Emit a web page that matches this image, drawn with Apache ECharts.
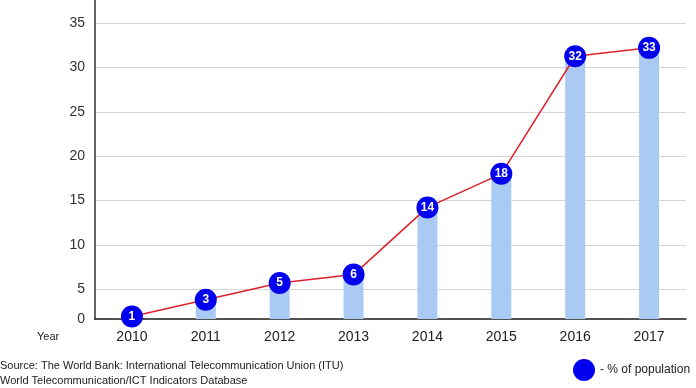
<!DOCTYPE html>
<html>
<head>
<meta charset="utf-8">
<script src="https://cdn.jsdelivr.net/npm/echarts@6/dist/echarts.min.js"></script>
<style>
html,body{margin:0;padding:0;background:#fff;}
#chart{width:696px;height:388px;}
</style>
</head>
<body>
<div id="chart"></div>
<script>
// ---- data ----
const years = ['2010', '2011', '2012', '2013', '2014', '2015', '2016', '2017'];
const populationPct = [1, 3, 5, 6, 14, 18, 32, 33];
const yTickValues = [5, 10, 15, 20, 25, 30, 35];
const seriesName = '- % of population';
const sourceLines = [
  'Source: The World Bank: International Telecommunication Union (ITU)',
  'World Telecommunication/ICT Indicators Database'
];
const xAxisTitle = 'Year';

// axis ranges (the reference draws its marks on a slightly different scale than its gridlines)
const gridAxisMin = 1.66, gridAxisMax = 37.6;
const dataAxisMin = 0.71, dataAxisMax = 38.7;

const chart = echarts.init(document.getElementById('chart'), null, {renderer: 'canvas'});
const font = '"Liberation Sans", Arial, sans-serif';

chart.setOption({
  animation: false,
  backgroundColor: '#ffffff',
  grid: {left: 95, right: 10, top: 0, bottom: 69, containLabel: false},
  xAxis: {
    type: 'category',
    data: years,
    boundaryGap: true,
    axisLine: {show: true, lineStyle: {color: '#1a1a1a', width: 1.5}},
    axisTick: {show: false},
    axisLabel: {color: '#222', fontSize: 14, fontFamily: font, margin: 11}
  },
  yAxis: [{
    type: 'value',
    min: gridAxisMin,
    max: gridAxisMax,
    axisLine: {show: true, lineStyle: {color: '#666', width: 2}},
    axisTick: {show: false, customValues: yTickValues},
    axisLabel: {
      color: '#333', fontSize: 14, fontFamily: font, margin: 10,
      customValues: [gridAxisMin].concat(yTickValues),
      formatter: v => (v < 2 ? '0' : String(Math.round(v)))
    },
    splitLine: {show: true, lineStyle: {color: '#d6d6d6', width: 1}}
  }, {
    type: 'value',
    min: dataAxisMin,
    max: dataAxisMax,
    show: false,
    splitLine: {show: false}
  }],
  legend: {
    left: 568,
    top: 354,
    icon: 'circle',
    itemWidth: 22,
    itemHeight: 22,
    itemGap: 6,
    textStyle: {color: '#222', fontSize: 12, fontFamily: font},
    data: [{name: seriesName, icon: 'circle', itemStyle: {color: '#0000ee'}}]
  },
  graphic: [
    {type: 'text', left: 37, top: 331, style: {text: xAxisTitle, fill: '#222', font: '11px ' + font}},
    {type: 'text', left: 0, top: 360, style: {text: sourceLines[0], fill: '#222', font: '11px ' + font}},
    {type: 'text', left: 0, top: 375, style: {text: sourceLines[1], fill: '#222', font: '11px ' + font}}
  ],
  series: [{
    name: 'bars',
    type: 'bar',
    yAxisIndex: 1,
    data: populationPct,
    barWidth: 20,
    itemStyle: {color: '#a9cbf3'},
    silent: true
  }, {
    name: seriesName,
    type: 'line',
    yAxisIndex: 1,
    data: populationPct,
    symbol: 'circle',
    symbolSize: 22,
    lineStyle: {color: '#e0202a', width: 1.5},
    itemStyle: {color: '#0000ee', borderWidth: 0},
    label: {show: true, position: 'inside', color: '#fff', fontSize: 12, fontWeight: 'bold', fontFamily: font},
    z: 3
  }]
});
</script>
</body>
</html>
